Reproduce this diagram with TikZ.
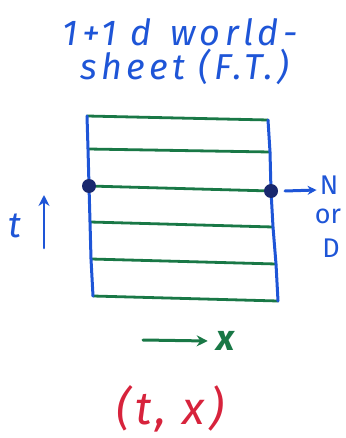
\documentclass[tikz,border=0pt]{standalone}
\usepackage{fontspec}
\setmainfont{Fira Sans}
\usetikzlibrary{arrows.meta}
\definecolor{penblue}{RGB}{30,85,215}
\definecolor{pengreen}{RGB}{25,120,70}
\definecolor{penred}{RGB}{215,35,60}
\definecolor{dotblue}{RGB}{25,40,110}
\tikzset{
  edge/.style={penblue, line width=3pt, line cap=round},
  rung/.style={pengreen, line width=2.8pt, line cap=round},
  dot/.style={circle, fill=dotblue, inner sep=0pt, minimum size=14pt},
  lbl/.style={inner sep=0pt, text=penblue},
  arr/.style={line width=3pt, -{Stealth[length=11pt,width=11pt]}, line cap=round},
}
\begin{document}
\begin{tikzpicture}[x=1pt,y=-1pt]
\useasboundingbox (0,0) rectangle (345,438);
% title
\node[lbl, font=\fontsize{36}{36}\selectfont\itshape\addfontfeatures{LetterSpace=12}] (t1) at (180,32) {1+1 d\enspace world-};
\node[lbl, font=\fontsize{36}{36}\selectfont\itshape\addfontfeatures{LetterSpace=12}] (t2) at (185,67) {sheet (F.T.)};
% corners / rung ends
\coordinate (L0) at (87,116); \coordinate (R0) at (268,120);
\coordinate (L1) at (88,149); \coordinate (R1) at (270,152);
\coordinate (L2) at (89,186); \coordinate (R2) at (271,191);
\coordinate (L3) at (90,222); \coordinate (R3) at (273,227);
\coordinate (L4) at (91,259); \coordinate (R4) at (276,264);
\coordinate (L5) at (93,296); \coordinate (R5) at (278,301);
% green rungs
\foreach \i in {0,...,5}{\draw[rung] (L\i) -- (R\i);}
% blue edges
\draw[edge] (L0) -- (L1) -- (L2) -- (L3) -- (L4) -- (L5);
\draw[edge] (R0) -- (R1) -- (R2) -- (R3) -- (R4) -- (R5);
% boundary dots
\node[dot] (dl) at (L2) {};
\node[dot] (dr) at (R2) {};
% N or D
\node[lbl, font=\fontsize{27}{27}\selectfont] (N) at (329,185) {N};
\node[lbl, font=\fontsize{27}{27}\selectfont] (or) at (328,216) {or};
\node[lbl, font=\fontsize{27}{27}\selectfont] (D) at (331,248) {D};
\coordinate (a0) at (285,191);
\draw[arr, penblue, -{Stealth[length=9pt,width=9pt]}] (a0) -- ([xshift=-3pt,yshift=-5pt]N.west);
% time arrow
\node[lbl, font=\fontsize{36}{36}\selectfont\itshape] (t) at (15,226) {t};
\coordinate (tb) at (44,248); \coordinate (tt) at (44,195);
\draw[arr, penblue, line width=2.6pt] (tb) -- (tt);
% x arrow
\node[inner sep=0pt, text=pengreen, font=\fontsize{36}{36}\selectfont\itshape\bfseries] (x) at (226,341) {x};
\coordinate (xb) at (143,340);
\draw[arr, pengreen] (xb) -- ([xshift=-9pt]x.west);
% (t, x)
\node[inner sep=0pt, text=penred, font=\fontsize{46}{46}\selectfont\itshape\addfontfeatures{LetterSpace=9}] (tx) at (170,409) {(t, x)};
\end{tikzpicture}
\end{document}
